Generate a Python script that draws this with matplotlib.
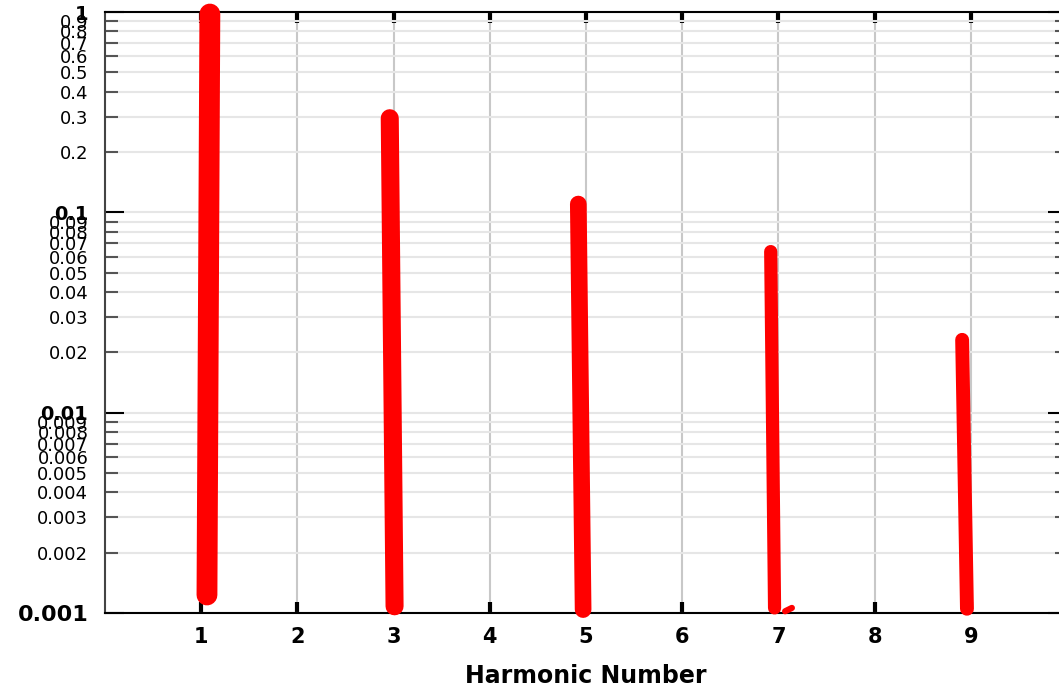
import numpy as np
import matplotlib.pyplot as plt

# Harmonic strokes: top amplitude and bottom end of each red mark
harmonics = [1, 3, 5, 7, 9]
amplitude = [0.977, 0.295, 0.110, 0.0637, 0.0231]
base = [0.00123, 0.00108, 0.00104, 0.00106, 0.00105]
x_top = [1.09, 2.96, 4.92, 6.92, 8.91]
x_bottom = [1.06, 3.01, 4.97, 6.96, 8.96]
stroke_lw = [15, 13, 12, 9.5, 10]

# small stray mark next to harmonic 7
hook_x = [7.07, 7.14]
hook_y = [0.00102, 0.00106]

major_y = [0.001, 0.01, 0.1, 1]
major_labels = ['0.001', '0.01', '0.1', '1']
minor_y = [m * d for d in [0.001, 0.01, 0.1] for m in range(2, 10)]
minor_labels = [('%g' % v) for v in minor_y]
x_ticks = list(range(1, 10))

fig = plt.figure(figsize=(10.59, 6.90), dpi=100)
ax = fig.add_axes([105/1059, 77/690, 962/1059, 601/690])
ax.set_yscale('log')
ax.set_xlim(0, 10)
ax.set_ylim(0.001, 1)

# grille
ax.set_xticks(x_ticks)
ax.set_xticklabels([str(k) for k in x_ticks], fontsize=15, fontweight='bold')
ax.set_yticks(major_y)
ax.set_yticklabels(major_labels)
ax.set_yticks(minor_y, minor=True)
ax.set_yticklabels(minor_labels, minor=True)
ax.grid(True, axis='x', which='major', color='#c8c8c8', lw=1.5)
ax.grid(True, axis='y', which='both', color='#e6e6e6', lw=1.5)
ax.set_axisbelow(True)

ax.tick_params(axis='x', which='both', direction='in', top=True, bottom=True,
               length=8, width=3, color='black', pad=10)
ax.tick_params(axis='x', which='minor', length=0)
ax.tick_params(axis='y', which='major', direction='in', left=True, right=True,
               length=14, width=1.5, color='black', pad=12)
ax.tick_params(axis='y', which='minor', direction='in', left=True, right=True,
               length=9, width=1.5, color='#555555', pad=12, labelsize=13)
for lab in ax.get_yticklabels():
    lab.set_fontweight('bold')
    lab.set_fontsize(14)
ax.get_yticklabels()[0].set_fontsize(16)

for side in ['top', 'bottom']:
    ax.spines[side].set_color('black')
    ax.spines[side].set_linewidth(1.5)
for side in ['left', 'right']:
    ax.spines[side].set_color('#444444')
    ax.spines[side].set_linewidth(1.5)

# traits rouges
for i in range(len(harmonics)):
    ax.plot([x_top[i], x_bottom[i]], [amplitude[i], base[i]], color='#ff0000',
            lw=stroke_lw[i], solid_capstyle='round', clip_on=False, zorder=5)
ax.plot(hook_x, hook_y, color='#ff0000', lw=4.5, solid_capstyle='round',
        clip_on=False, zorder=5)

ax.set_xlabel('Harmonic Number', fontsize=17, fontweight='bold', labelpad=12)

fig.savefig('out.png', dpi=100)
